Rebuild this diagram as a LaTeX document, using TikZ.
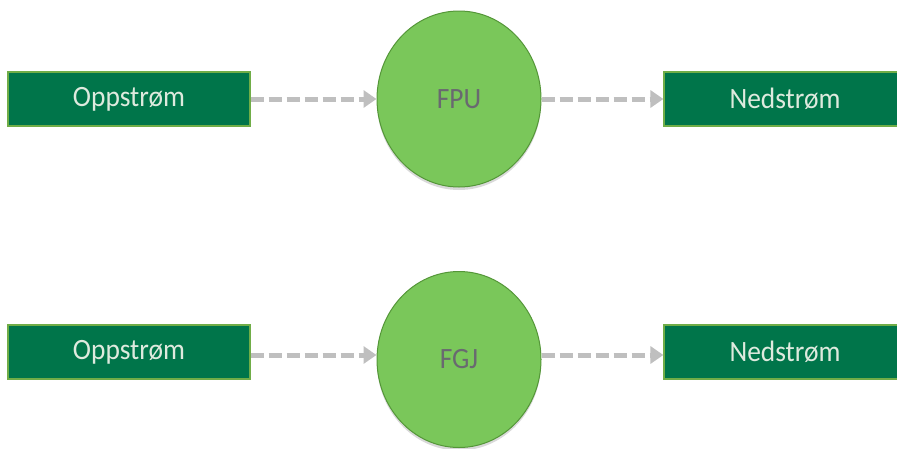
\documentclass[tikz,border=0pt]{standalone}
\usepackage{fontspec}
\setmainfont{Carlito}
\newfontfamily\labelfont[FakeStretch=0.93]{Carlito}
\usetikzlibrary{shadows,arrows.meta,shapes.geometric}
\definecolor{boxgreen}{RGB}{0,117,74}
\definecolor{boxedge}{RGB}{112,173,71}
\definecolor{circfill}{RGB}{122,199,90}
\definecolor{circedge}{RGB}{84,150,56}
\definecolor{arrgrey}{RGB}{191,191,191}
\definecolor{boxtext}{RGB}{222,234,222}
\definecolor{circtext}{RGB}{105,105,112}
\begin{document}
\begin{tikzpicture}[x=1pt,y=-1pt,
  stage/.style={draw=boxedge, line width=1.2pt, fill=boxgreen,
    minimum width=242pt, minimum height=54pt, inner sep=0pt,
    text=boxtext, font=\labelfont\fontsize{29.5}{32}\selectfont},
  unit/.style={ellipse, draw=circedge, line width=1pt, fill=circfill,
    minimum width=164pt, minimum height=176pt, inner sep=0pt,
    text=circtext, font=\labelfont\fontsize{29.5}{32}\selectfont,
    drop shadow={shadow xshift=0pt, shadow yshift=-3pt, opacity=0.15, fill=black}},
  flow/.style={draw=arrgrey, line width=5pt, dash pattern=on 13pt off 5pt,
    -{Triangle[length=13pt,width=17pt]}}]
\useasboundingbox (0,0) rectangle (897,448);
\clip (0,0) rectangle (897,448);
% top row
\node[stage] (up1) at (129,99) {Oppstrøm};
\node[unit] (fpu) at (459,99) {FPU};
\node[stage] (down1) at (785,99) {Nedstrøm};
% bottom row
\node[stage] (up2) at (129,352) {Oppstrøm};
\node[unit] (fgj) at (459,359.5) {FGJ};
\node[stage] (down2) at (785,352) {Nedstrøm};
% connectors
\draw[flow] (up1.east) -- (fpu.west);
\draw[flow] (fpu.east) -- (down1.west);
\draw[flow] ([yshift=-3pt]up2.east) -- ([yshift=-3pt]up2.east -| fgj.west);
\draw[flow] ([yshift=-3pt]down2.west -| fgj.east) -- ([yshift=-3pt]down2.west);
\end{tikzpicture}
\end{document}
